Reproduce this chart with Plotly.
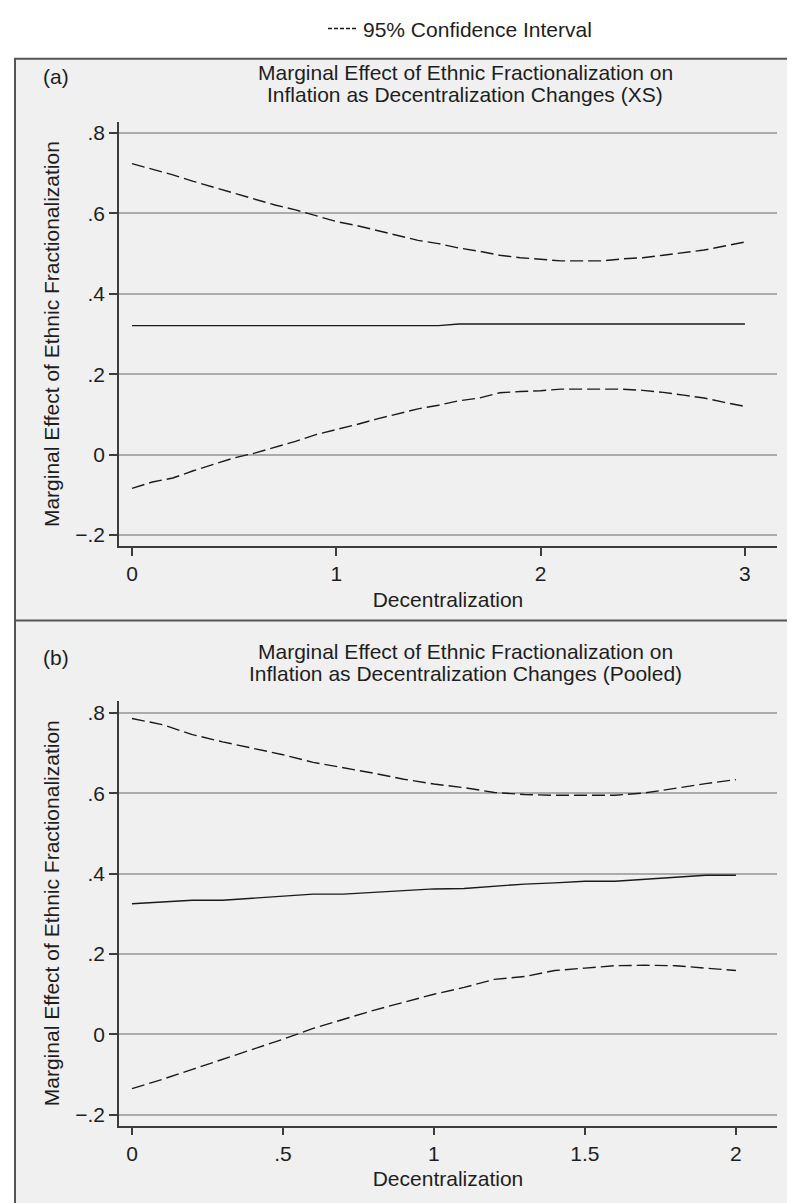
import plotly.graph_objects as go

# ---------------- data ----------------
x_a = [0.0, 0.1, 0.2, 0.3, 0.4, 0.5, 0.6, 0.7, 0.8, 0.9, 1.0, 1.1, 1.2, 1.3, 1.4, 1.5,
       1.6, 1.7, 1.8, 1.9, 2.0, 2.1, 2.2, 2.3, 2.4, 2.5, 2.6, 2.7, 2.8, 2.9, 3.0]
mid_a = [0.321, 0.321, 0.321, 0.321, 0.321, 0.321, 0.321, 0.321, 0.321, 0.321, 0.321,
         0.321, 0.321, 0.321, 0.321, 0.321, 0.325, 0.325, 0.325, 0.325, 0.325, 0.325,
         0.325, 0.325, 0.325, 0.325, 0.325, 0.325, 0.325, 0.325, 0.325]
upper_a = [0.724, 0.710, 0.696, 0.680, 0.665, 0.651, 0.636, 0.621, 0.609, 0.595, 0.580,
           0.570, 0.558, 0.546, 0.533, 0.525, 0.514, 0.506, 0.496, 0.490, 0.486, 0.482,
           0.482, 0.482, 0.487, 0.490, 0.496, 0.503, 0.509, 0.519, 0.529]
lower_a = [-0.084, -0.068, -0.058, -0.040, -0.024, -0.008, 0.004, 0.019, 0.033, 0.050,
           0.062, 0.075, 0.089, 0.101, 0.114, 0.123, 0.134, 0.141, 0.154, 0.157, 0.159,
           0.163, 0.163, 0.163, 0.163, 0.160, 0.155, 0.148, 0.141, 0.130, 0.120]

x_b = [0.0, 0.1, 0.2, 0.3, 0.4, 0.5, 0.6, 0.7, 0.8, 0.9, 1.0, 1.1, 1.2, 1.3, 1.4, 1.5,
       1.6, 1.7, 1.8, 1.9, 2.0]
mid_b = [0.325, 0.330, 0.334, 0.334, 0.339, 0.344, 0.349, 0.349, 0.353, 0.358, 0.362,
         0.363, 0.369, 0.374, 0.377, 0.381, 0.381, 0.386, 0.391, 0.396, 0.396]
upper_b = [0.786, 0.771, 0.746, 0.728, 0.712, 0.696, 0.677, 0.664, 0.650, 0.635, 0.623,
           0.614, 0.602, 0.597, 0.595, 0.595, 0.595, 0.601, 0.613, 0.624, 0.634]
lower_b = [-0.135, -0.112, -0.087, -0.062, -0.037, -0.012, 0.015, 0.038, 0.060, 0.080,
           0.100, 0.117, 0.137, 0.144, 0.159, 0.165, 0.171, 0.172, 0.171, 0.165, 0.159]

y_tickvals = [-0.2, 0.0, 0.2, 0.4, 0.6, 0.8]
y_ticktext = ["\u2212.2", "0", ".2", ".4", ".6", ".8"]
xa_tickvals = [0, 1, 2, 3]
xa_ticktext = ["0", "1", "2", "3"]
xb_tickvals = [0, 0.5, 1, 1.5, 2]
xb_ticktext = ["0", ".5", "1", "1.5", "2"]

title_a = ["Marginal Effect of Ethnic Fractionalization on",
           "Inflation as Decentralization Changes (XS)"]
title_b = ["Marginal Effect of Ethnic Fractionalization on",
           "Inflation as Decentralization Changes (Pooled)"]
y_title = "Marginal Effect of Ethnic Fractionalization"
x_title = "Decentralization"
legend_label = "95% Confidence Interval"

# ---------------- style ----------------
W, H = 795, 1203
FONT = "Liberation Sans, Arial, Helvetica, sans-serif"
TXT = "#1e1e1e"
LINE = "#1a1a1a"
AX = "#3c3c3c"
GRID = "#ababab"
BG = "#f0f0f0"
DASH = "13px,5px"


def py(px):
    return 1 - px / H


def pxx(px):
    return px / W


fig = go.Figure()

# panel (a)
fig.add_trace(go.Scatter(x=x_a, y=upper_a, mode="lines", xaxis="x", yaxis="y",
                         line=dict(color=LINE, width=1.4, dash=DASH), showlegend=False))
fig.add_trace(go.Scatter(x=x_a, y=lower_a, mode="lines", xaxis="x", yaxis="y",
                         line=dict(color=LINE, width=1.4, dash=DASH), showlegend=False))
fig.add_trace(go.Scatter(x=x_a, y=mid_a, mode="lines", xaxis="x", yaxis="y",
                         line=dict(color=LINE, width=1.4), showlegend=False))
# panel (b)
fig.add_trace(go.Scatter(x=x_b, y=upper_b, mode="lines", xaxis="x2", yaxis="y2",
                         line=dict(color=LINE, width=1.4, dash=DASH), showlegend=False))
fig.add_trace(go.Scatter(x=x_b, y=lower_b, mode="lines", xaxis="x2", yaxis="y2",
                         line=dict(color=LINE, width=1.4, dash=DASH), showlegend=False))
fig.add_trace(go.Scatter(x=x_b, y=mid_b, mode="lines", xaxis="x2", yaxis="y2",
                         line=dict(color=LINE, width=1.4), showlegend=False))
# legend key
fig.add_trace(go.Scatter(x=[None], y=[None], mode="lines", name=legend_label,
                         line=dict(color=LINE, width=1.4, dash="4px,2px"),
                         showlegend=True, xaxis="x", yaxis="y"))

xcommon = dict(showgrid=False, zeroline=False, showline=True, linecolor=AX, linewidth=1.6,
               ticks="outside", ticklen=8, tickwidth=1.6, tickcolor=AX,
               tickfont=dict(family=FONT, size=21, color=TXT),
               title=dict(text=x_title, font=dict(family=FONT, size=21, color=TXT), standoff=8))
ycommon = dict(showgrid=True, gridcolor=GRID, gridwidth=1.6, zeroline=False, showline=True,
               linecolor=AX, linewidth=1.6, ticks="outside", ticklen=8, tickwidth=1.6,
               tickcolor=AX, tickvals=y_tickvals, ticktext=y_ticktext,
               tickfont=dict(family=FONT, size=21, color=TXT),
               title=dict(text=y_title, font=dict(family=FONT, size=21, color=TXT), standoff=10))

dom_x = [pxx(111), pxx(769)]
fig.update_layout(
    xaxis=dict(domain=dom_x, anchor="y", range=[-0.0636, 3.157],
               tickvals=xa_tickvals, ticktext=xa_ticktext, **xcommon),
    yaxis=dict(domain=[py(533), py(106)], anchor="x", range=[-0.2272, 0.827], **ycommon),
    xaxis2=dict(domain=dom_x, anchor="y2", range=[-0.043, 2.136],
                tickvals=xb_tickvals, ticktext=xb_ticktext, **xcommon),
    yaxis2=dict(domain=[py(1117), py(689)], anchor="x2", range=[-0.227, 0.830], **ycommon),
)

shapes = [
    dict(type="rect", xref="paper", yref="paper", x0=pxx(7), x1=1.05, y0=-0.05, y1=py(42),
         fillcolor=BG, line=dict(color="#555555", width=2), layer="below"),
    dict(type="line", xref="paper", yref="paper", x0=pxx(7), x1=1.05, y0=py(608), y1=py(608),
         line=dict(color="#555555", width=2), layer="below"),
]

annotations = []
for lines, top, lab_off in [(title_a, 0, 4), (title_b, 583, 6)]:
    for i, t in enumerate(lines):
        annotations.append(dict(text=t, xref="paper", yref="paper", x=pxx(457),
                                y=py(56 + top + 22 * i), xanchor="center", yanchor="middle",
                                showarrow=False, font=dict(family=FONT, size=21, color=TXT)))
annotations.append(dict(text="(a)", xref="paper", yref="paper", x=pxx(33), y=py(60),
                        xanchor="left", yanchor="middle", showarrow=False,
                        font=dict(family=FONT, size=21, color=TXT)))
annotations.append(dict(text="(b)", xref="paper", yref="paper", x=pxx(33), y=py(645),
                        xanchor="left", yanchor="middle", showarrow=False,
                        font=dict(family=FONT, size=21, color=TXT)))

fig.update_layout(
    width=W, height=H, margin=dict(l=0, r=0, t=0, b=0),
    paper_bgcolor="white", plot_bgcolor=BG,
    shapes=shapes, annotations=annotations,
    showlegend=True,
    legend=dict(x=pxx(315), y=py(12), xanchor="left", yanchor="middle",
                orientation="h", bgcolor="rgba(0,0,0,0)",
                font=dict(family=FONT, size=21, color=TXT)),
)

fig.write_html("out.html")
